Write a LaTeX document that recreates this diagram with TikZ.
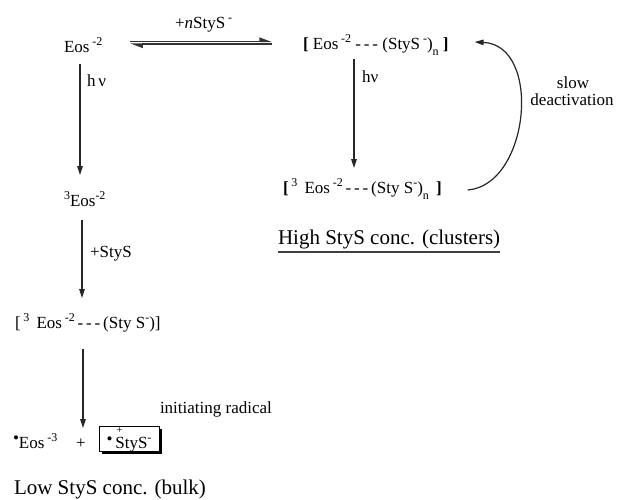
\documentclass[tikz,border=0pt]{standalone}
\usepackage{fontspec}
\setmainfont{Liberation Serif}
\usetikzlibrary{arrows.meta,shadows}

% raised and lowered indices at a fixed size
\newcommand{\sps}[1]{\raisebox{6.5pt}{\fontsize{12}{12}\selectfont #1}}
\newcommand{\sbs}[1]{\raisebox{-6pt}{\fontsize{12}{12}\selectfont #1}}
\newcommand{\dsh}{{-}\,{-}\,{-}}

\begin{document}
\begin{tikzpicture}[x=1pt,y=-1pt,
  every node/.style={inner sep=0pt, outer sep=0pt},
  txt/.style={font=\fontsize{17}{19}\selectfont, anchor=base west},
  head/.style={font=\fontsize{21}{24}\selectfont, anchor=base west},
  arr/.style={line width=1.2pt, draw=black!85, -{Triangle[length=9pt,width=5.5pt]}},
  harp/.style={line width=1.1pt, draw=black!80, -{Triangle[harpoon,length=11pt,width=8pt]}},
  radbox/.style={draw, line width=0.9pt, fill=white, minimum width=60pt,
    text height=20pt, text depth=1pt, inner ysep=2pt, anchor=base,
    drop shadow={shadow xshift=3pt, shadow yshift=-3pt, fill=black, opacity=1}}]
\useasboundingbox (0,0) rectangle (618,499);

% species
\node[txt] (eos)  at (64,52)  {Eos\,\sps{-2}};
\node[txt] (tcx)  at (303,49) {\textbf{[} Eos\,\sps{-2} \dsh\ (StyS\,\sps{-})\sbs{n} \textbf{]}};
\node[txt] (eos3) at (64,206) {\sps{3}Eos\sps{-2}};
\node[txt] (bcx)  at (283,193) {\textbf{[}\,\sps{3}\, Eos\,\sps{-2}\,\dsh\,(Sty S\sps{-})\sbs{n}\, \textbf{]}};
\node[txt] (lbc)  at (15,328) {[\,\sps{3}\, Eos\,\sps{-2}\,\dsh\,(Sty S\sps{-})]};
\node[txt] (prod) at (13,448) {\raisebox{5pt}{\textbullet}Eos\,\sps{-3}};
\node[txt] (plus) at (76,448) {+};
\node[radbox, font=\fontsize{17}{19}\selectfont] (rad) at (129,448)
  {\raisebox{4pt}{\textbullet}\,\rlap{\kern1pt\raisebox{14.5pt}{\fontsize{11}{11}\selectfont +}}StyS\sps{-}};

% labels
\node[txt] (lnu)  at (87,86)   {h\,ν};
\node[txt] (rnu)  at (362,82)  {hν};
\node[txt] (lsty) at (90,257)  {+StyS};
\node[txt] (nsty) at (175,28)  {+\textit{n}StyS\,\sps{-}};
\node[txt] (ini)  at (160,413) {initiating radical};
\node[txt, anchor=base] (slow) at (573,88)  {slow};
\node[txt, anchor=base] (deac) at (572,105) {deactivation};
\node[head] (hi)  at (278,244) {High StyS conc. (clusters)};
\node[head] (lo)  at (14,494)  {Low StyS conc. (bulk)};
\draw[line width=1.2pt, black!75] ([yshift=-8pt]hi.base west) -- ([yshift=-8pt]hi.base east);

% equilibrium
\draw[harp, shorten <=28pt, shorten >=31pt] ([yshift=10.5pt]eos.base east)
  -- ([yshift=10.5pt]eos.base east -| tcx.base west);
\draw[harp, shorten <=31pt, shorten >=28pt] ([yshift=5pt]tcx.base west)
  -- ([yshift=5pt]tcx.base west -| eos.base east);

% reaction arrows
\draw[arr, shorten <=12pt, shorten >=31pt] (eos.base -| 80,0) -- (eos3.base -| 80,0);
\draw[arr, shorten <=14pt, shorten >=30pt] (eos3.base -| 82,0) -- (lbc.base -| 82,0);
\draw[arr, shorten <=21pt, shorten >=20pt] (lbc.base -| 83,0) -- (prod.base -| 83,0);
\draw[arr, shorten <=10pt, shorten >=25pt] (tcx.base -| 354,0) -- (bcx.base -| 354,0);

% slow deactivation loop
\draw[arr] ([xshift=26pt,yshift=3pt]bcx.base east)
  .. controls +(62,-5) and +(68,3) .. ([xshift=26pt,yshift=7pt]tcx.base east);
\end{tikzpicture}
\end{document}
